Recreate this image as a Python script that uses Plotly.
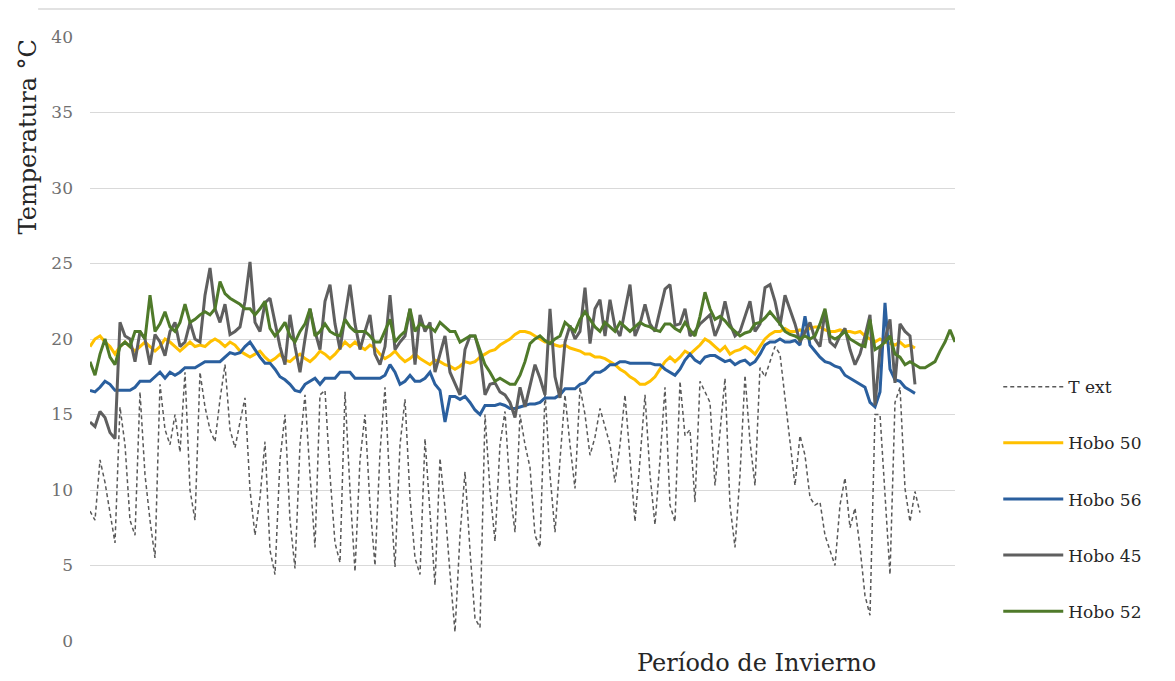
import plotly.graph_objects as go

# Temperature records, one reading every sampling step across the winter period
t_ext = [
    8.6, 8.0, 12.0, 10.5, 8.5, 6.5, 15.5, 13.0, 8.0, 7.0,
    16.5, 11.0, 8.0, 5.5, 17.0, 14.0, 13.0, 15.0, 12.5, 17.8,
    10.0, 8.0, 17.8, 15.5, 14.0, 13.2, 16.0, 18.3, 14.0, 12.8,
    14.5, 16.1, 10.0, 7.0, 9.5, 13.2, 6.0, 4.4, 12.0, 15.0,
    8.0, 4.8, 13.0, 16.3, 11.0, 6.2, 16.3, 16.6, 11.0, 6.5,
    5.2, 16.5, 10.0, 4.6, 12.0, 15.0, 9.0, 5.0, 12.5, 16.8,
    10.0, 4.9, 13.0, 16.0, 9.5, 5.5, 4.4, 13.4, 8.5, 3.7,
    12.1, 8.8, 4.5, 0.6, 7.0, 11.2, 6.0, 1.5, 0.9, 15.0,
    10.0, 6.6, 13.0, 15.2, 10.0, 7.2, 15.0, 13.0, 11.5, 7.0,
    6.2, 16.5, 11.0, 7.2, 12.0, 16.3, 13.0, 10.1, 16.8, 15.0,
    12.3, 13.5, 15.4, 14.1, 13.0, 10.5, 13.0, 16.3, 12.0, 7.9,
    12.0, 16.3, 11.0, 7.7, 12.0, 16.8, 9.0, 7.9, 17.2, 13.6,
    14.0, 9.2, 17.2, 16.5, 15.8, 10.3, 14.0, 17.4, 9.0, 6.2,
    11.0, 17.6, 13.2, 10.3, 18.1, 17.5, 18.5, 19.5, 19.0, 16.0,
    13.0, 10.3, 13.6, 12.3, 9.5, 9.0, 9.2, 7.0, 6.0, 5.0,
    9.0, 10.8, 7.5, 8.8, 6.2, 3.0, 1.7, 15.0, 15.0, 10.0,
    4.4, 15.8, 16.8, 10.1, 7.9, 9.9, 8.5,
]

hobo_50 = [
    19.5, 20.0, 20.2, 19.8, 19.5, 19.0, 19.5, 19.8, 19.5, 19.2,
    19.5, 19.8, 19.5, 19.2, 19.5, 20.0, 19.8, 19.5, 19.2, 19.5,
    19.8, 19.5, 19.6, 19.5, 19.8, 20.0, 19.8, 19.5, 19.8, 19.6,
    19.2, 19.0, 18.8, 19.0, 19.2, 18.8, 18.5, 18.7, 19.0, 18.6,
    18.5, 18.8, 19.0, 18.7, 18.5, 18.8, 19.2, 19.0, 18.7, 19.0,
    19.4, 19.8, 19.5, 19.8, 19.5, 19.3, 19.6, 19.4, 19.0, 18.7,
    18.9, 19.2, 18.8, 18.5, 18.7, 19.0, 18.7, 18.5, 18.3, 18.6,
    18.5, 18.3, 18.2, 18.0, 18.2, 18.5, 18.4, 18.5, 18.8, 19.0,
    19.2, 19.3, 19.6, 19.8, 20.0, 20.3, 20.5, 20.5, 20.4, 20.2,
    20.0, 19.8, 19.8, 19.6, 19.5, 19.6, 19.4, 19.3, 19.2, 19.0,
    19.0, 18.8, 18.8, 18.7, 18.5, 18.3, 18.0, 17.8, 17.5, 17.3,
    17.0, 17.0, 17.2, 17.5, 18.0, 18.5, 18.8, 18.5, 18.8, 19.2,
    19.0, 19.3, 19.6, 20.0, 19.8, 19.5, 19.2, 19.5, 19.0, 19.2,
    19.3, 19.5, 19.3, 19.0, 19.5, 20.0, 20.3, 20.5, 20.5, 20.7,
    20.5, 20.5, 20.6, 20.5, 20.7, 20.8, 20.8, 20.6, 20.5, 20.5,
    20.6, 20.5, 20.5, 20.4, 20.5, 20.2, 20.0, 19.8, 20.0, 19.8,
    19.7, 19.6, 19.8, 19.5, 19.6, 19.4,
]

hobo_56 = [
    16.6, 16.5, 16.8, 17.2, 17.0, 16.6, 16.6, 16.6, 16.6, 16.8,
    17.2, 17.2, 17.2, 17.5, 17.8, 17.4, 17.8, 17.6, 17.8, 18.1,
    18.1, 18.1, 18.3, 18.5, 18.5, 18.5, 18.5, 18.8, 19.1, 19.0,
    19.1, 19.5, 19.8, 19.3, 18.8, 18.4, 18.4, 18.0, 17.5, 17.3,
    17.0, 16.6, 16.5, 17.0, 17.2, 17.4, 17.0, 17.4, 17.4, 17.4,
    17.8, 17.8, 17.8, 17.4, 17.4, 17.4, 17.4, 17.4, 17.4, 17.6,
    18.3, 17.8, 17.0, 17.2, 17.6, 17.2, 17.2, 17.4, 17.8, 17.0,
    16.6, 14.5, 16.2, 16.2, 16.0, 16.2, 15.8, 15.3, 15.0, 15.6,
    15.6, 15.6, 15.7, 15.6, 15.4, 15.4, 15.5, 15.6, 15.7, 15.7,
    15.8, 16.1, 16.1, 16.1, 16.3, 16.7, 16.7, 16.7, 17.0, 17.1,
    17.5, 17.8, 17.8, 18.0, 18.3, 18.3, 18.5, 18.5, 18.4, 18.4,
    18.4, 18.4, 18.4, 18.3, 18.3, 18.0, 17.8, 17.6, 18.0, 18.6,
    19.0, 18.6, 18.4, 18.8, 18.9, 18.9, 18.7, 18.5, 18.6, 18.3,
    18.5, 18.6, 18.3, 18.5, 19.0, 19.6, 19.8, 19.8, 20.0, 19.8,
    19.8, 19.9, 19.6, 21.5, 19.6, 19.2, 18.8, 18.5, 18.4, 18.2,
    18.1, 17.6, 17.4, 17.2, 17.0, 16.8, 15.8, 15.5, 16.5, 22.4,
    18.0, 17.3, 17.2, 16.8, 16.6, 16.4,
]

hobo_45 = [
    14.5, 14.2, 15.2, 14.8, 13.8, 13.4, 21.1, 20.2, 20.0, 18.5,
    20.5, 20.0, 18.3, 20.3, 19.8, 18.9, 20.5, 21.1, 19.5, 19.8,
    21.1, 20.0, 19.8, 22.9, 24.7, 22.0, 21.1, 22.3, 20.3, 20.5,
    20.8, 22.5, 25.1, 21.1, 20.5, 22.4, 22.7, 21.0, 19.5, 18.3,
    21.6, 19.5, 17.8, 20.0, 22.0, 20.5, 19.3, 22.5, 23.6, 21.0,
    19.3, 21.5, 23.6, 21.0, 19.3, 20.5, 21.6, 19.0, 18.3, 19.5,
    22.9, 19.3, 19.8, 20.2, 22.0, 18.3, 21.6, 20.5, 21.1, 17.8,
    19.0, 20.2, 17.8, 17.1, 16.3, 19.3, 20.2, 20.2, 19.0, 16.3,
    17.0, 17.1, 16.5, 16.3, 15.8, 14.8, 16.8, 15.5, 17.0, 18.3,
    17.4, 16.3, 22.0, 17.5, 16.1, 19.8, 20.9, 20.0, 20.5, 23.4,
    19.7, 22.0, 22.6, 20.2, 22.6, 20.8, 20.2, 22.0, 23.6, 20.2,
    21.0, 22.3, 21.0, 20.5, 22.0, 23.3, 23.6, 20.9, 21.0, 22.0,
    20.2, 20.5, 21.0, 21.3, 21.6, 20.2, 21.0, 22.5, 21.0, 20.2,
    20.5, 21.5, 22.5, 20.5, 21.0, 23.4, 23.6, 22.5, 20.9, 22.9,
    22.0, 21.0, 19.8, 20.5, 21.1, 20.0, 19.5, 21.8, 19.8, 19.5,
    20.2, 20.7, 19.3, 18.3, 19.0, 20.2, 21.6, 15.6, 19.3, 20.0,
    21.3, 17.1, 21.0, 20.5, 20.2, 17.0,
]

hobo_52 = [
    18.5, 17.6, 19.0, 20.0, 18.8, 18.3, 19.5, 19.8, 19.5, 20.5,
    20.5, 20.0, 22.9, 20.5, 21.0, 21.8, 20.8, 20.5, 21.1, 22.3,
    21.1, 21.3, 21.6, 21.8, 21.6, 22.0, 23.8, 23.0, 22.7, 22.5,
    22.3, 22.0, 22.0, 21.6, 22.0, 22.5, 20.7, 20.2, 20.6, 21.1,
    20.2, 19.8, 20.5, 21.0, 22.0, 20.2, 20.5, 21.0, 20.5, 20.3,
    20.2, 21.3, 20.8, 20.5, 20.5, 20.5, 20.2, 19.8, 19.8, 20.5,
    21.3, 19.8, 20.2, 20.5, 22.0, 20.5, 21.0, 20.8, 20.8, 20.5,
    21.1, 20.8, 20.5, 20.5, 19.8, 20.0, 20.2, 20.2, 19.2, 18.3,
    17.8, 17.2, 17.4, 17.2, 17.0, 17.0, 17.6, 18.5, 19.7, 20.0,
    20.2, 19.9, 19.7, 20.0, 20.2, 21.1, 20.8, 20.5, 21.3, 21.8,
    21.3, 20.8, 20.5, 21.1, 20.8, 20.5, 21.1, 20.8, 20.5, 20.8,
    21.1, 20.9, 20.8, 20.6, 20.5, 21.0, 21.0, 20.7, 20.5, 21.1,
    20.6, 20.2, 21.5, 23.1, 22.0, 21.3, 21.5, 21.2, 20.8, 20.5,
    20.2, 20.4, 20.5, 21.0, 21.1, 21.4, 21.8, 21.4, 21.0, 20.5,
    20.3, 20.2, 20.0, 20.2, 20.0, 20.2, 21.0, 22.0, 20.2, 20.0,
    20.2, 20.5, 20.0, 19.8, 19.6, 19.5, 21.3, 19.3, 19.5, 19.8,
    20.2, 19.0, 18.8, 18.3, 18.5, 18.3, 18.1, 18.1, 18.3, 18.5,
    19.2, 19.8, 20.6, 19.8,
]

series_names = ["T ext", "Hobo 50", "Hobo 56", "Hobo 45", "Hobo 52"]
series_values = [t_ext, hobo_50, hobo_56, hobo_45, hobo_52]
series_colors = ["#595959", "#FFC000", "#2A5F9E", "#5F5F5F", "#4F7A2A"]

y_ticks = [0, 5, 10, 15, 20, 25, 30, 35, 40]

serif = "DejaVu Serif"

fig = go.Figure()
for name, vals, color in zip(series_names, series_values, series_colors):
    if name == "T ext":
        line = dict(color=color, width=1.5, dash="4px,3px")
    else:
        line = dict(color=color, width=3)
    fig.add_trace(go.Scatter(
        x=list(range(len(vals))), y=vals, mode="lines", name=name,
        line=line, legendgroup=name, hoverinfo="skip",
    ))

n_max = max(len(v) for v in series_values) - 1

fig.update_layout(
    width=1175, height=681, autosize=False,
    margin=dict(l=90, r=220, t=37, b=40, pad=0),
    paper_bgcolor="white", plot_bgcolor="white",
    font=dict(family=serif, color="#404040"),
    showlegend=True,
    legend=dict(
        x=1.05, xanchor="left", y=0.45, yanchor="top",
        font=dict(family=serif, size=17, color="#262626"),
        tracegroupgap=31, itemwidth=60, bgcolor="rgba(0,0,0,0)",
    ),
    xaxis=dict(
        range=[0, n_max], showgrid=False, zeroline=False,
        showticklabels=False, ticks="", showline=False,
    ),
    yaxis=dict(
        range=[0, 40], tickvals=y_ticks, showgrid=True,
        gridcolor="#d9d9d9", gridwidth=1, zeroline=False,
        showline=False, ticks="", ticklabelstandoff=16,
        tickfont=dict(family=serif, size=17, color="#707070"),
    ),
    shapes=[dict(
        type="line", xref="paper", yref="paper",
        x0=-0.06, x1=1.0, y0=1.0464, y1=1.0464,
        line=dict(color="#d9d9d9", width=1.5),
    )],
    annotations=[
        dict(text="Temperatura °C", xref="paper", yref="paper",
             x=-0.072, y=0.835, xanchor="center", yanchor="middle",
             textangle=-90, showarrow=False,
             font=dict(family=serif, size=24, color="#262626")),
        dict(text="Período de Invierno", xref="paper", yref="paper",
             x=0.771, y=-0.036, xanchor="center", yanchor="middle",
             showarrow=False,
             font=dict(family=serif, size=24, color="#262626")),
    ],
)

fig.write_html("out.html")
